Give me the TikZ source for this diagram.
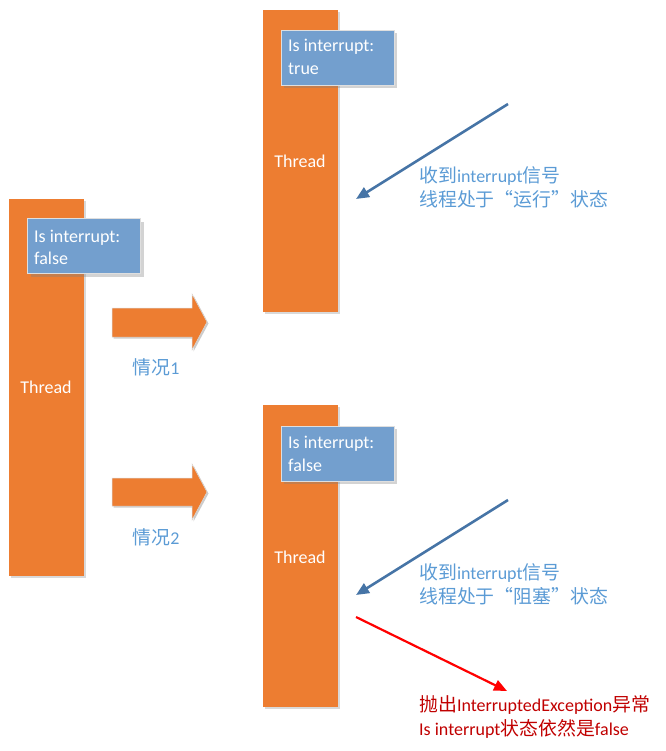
\documentclass[tikz,border=0pt]{standalone}
\usepackage{fontspec}
\setmainfont{Carlito}
\newfontfamily\cjk[Scale=1.05]{Noto Sans CJK SC}
\usetikzlibrary{shadows,arrows.meta}
\definecolor{barorange}{HTML}{ED7D31}
\definecolor{boxblue}{HTML}{739FCE}
\definecolor{arrblue}{HTML}{4674A6}
\definecolor{txtblue}{HTML}{5B9BD5}
\definecolor{txtred}{HTML}{C00000}
\begin{document}
\begin{tikzpicture}[x=1pt,y=-1pt,
  every node/.style={font=\fontsize{18}{24}\selectfont, inner sep=0pt},
  bar/.style={fill=barorange, draw=none, minimum width=75pt,
    drop shadow={shadow xshift=2pt, shadow yshift=-2pt, opacity=0.3}},
  flagbox/.style={fill=boxblue, draw=white!75!gray, line width=0.8pt,
    minimum width=113pt, minimum height=55pt,
    drop shadow={shadow xshift=3pt, shadow yshift=-3pt, opacity=0.35}},
  flagtxt/.style={text=white, anchor=base west},
  threadtxt/.style={text=white},
  blockarrow/.style={fill=barorange, draw=white!70!gray, line width=0.5pt,
    drop shadow={shadow xshift=1.5pt, shadow yshift=-1.5pt, opacity=0.4}},
  sig/.style={draw=arrblue, line width=2.6pt, -{Triangle[length=13pt,width=11pt]}},
  exc/.style={draw=red, line width=2.2pt, -{Triangle[length=13pt,width=11pt]}},
  note/.style={text=txtblue, anchor=base west},
  rednote/.style={text=txtred, anchor=base west},
  caselbl/.style={text=txtblue}
]
\useasboundingbox (0,0) rectangle (665,751);

% left thread
\node[bar, minimum height=377pt] (leftbar) at (46,387.5) {};
\node[flagbox] (leftflag) at (84,246) {};
\node[flagtxt] (lf1) at (34,242) {Is interrupt:};
\node[flagtxt] (lf2) at (34,264) {false};
\node[threadtxt] (lt) at (46,387) {Thread};

% top thread
\node[bar, minimum height=302pt] (topbar) at (300,161) {};
\node[flagbox] (topflag) at (337.5,57.5) {};
\node[flagtxt] (tf1) at (288,52) {Is interrupt:};
\node[flagtxt] (tf2) at (288,75) {true};
\node[threadtxt] (tt) at (300,161) {Thread};

% bottom thread
\node[bar, minimum height=302pt] (botbar) at (300,556) {};
\node[flagbox] (botflag) at (337.5,453.5) {};
\node[flagtxt] (bf1) at (288,448) {Is interrupt:};
\node[flagtxt] (bf2) at (288,471) {false};
\node[threadtxt] (bt) at (300,557) {Thread};

% block arrows
\draw[blockarrow] (112,308) -- (192,308) -- (192,294) -- (207,322) -- (192,350) -- (192,337) -- (112,337) -- cycle;
\draw[blockarrow] (112,478) -- (192,478) -- (192,464) -- (207,492) -- (192,520) -- (192,506) -- (112,506) -- cycle;
\node[caselbl] (c1) at (156,367) {{\cjk 情况}1};
\node[caselbl] (c2) at (156,537) {{\cjk 情况}2};

% signal arrows
\coordinate (s1a) at (508,104);
\coordinate (s1b) at (356,199);
\draw[sig] (s1a) -- (s1b);
\node[note] (n1a) at (419,183) {{\cjk 收到}interrupt{\cjk 信号}};
\node[note] (n1b) at (419,207) {{\cjk 线程处于“运行”状态}};

\coordinate (s2a) at (508,500);
\coordinate (s2b) at (356,595);
\draw[sig] (s2a) -- (s2b);
\node[note] (n2a) at (419,579) {{\cjk 收到}interrupt{\cjk 信号}};
\node[note] (n2b) at (419,603) {{\cjk 线程处于“阻塞”状态}};

\coordinate (e1) at (356,617);
\coordinate (e2) at (507,691);
\draw[exc] (e1) -- (e2);
\node[rednote] (r1) at (419,711) {{\cjk 抛出}InterruptedException{\cjk 异常}};
\node[rednote] (r2) at (419,735) {Is interrupt{\cjk 状态依然是}false};
\end{tikzpicture}
\end{document}
